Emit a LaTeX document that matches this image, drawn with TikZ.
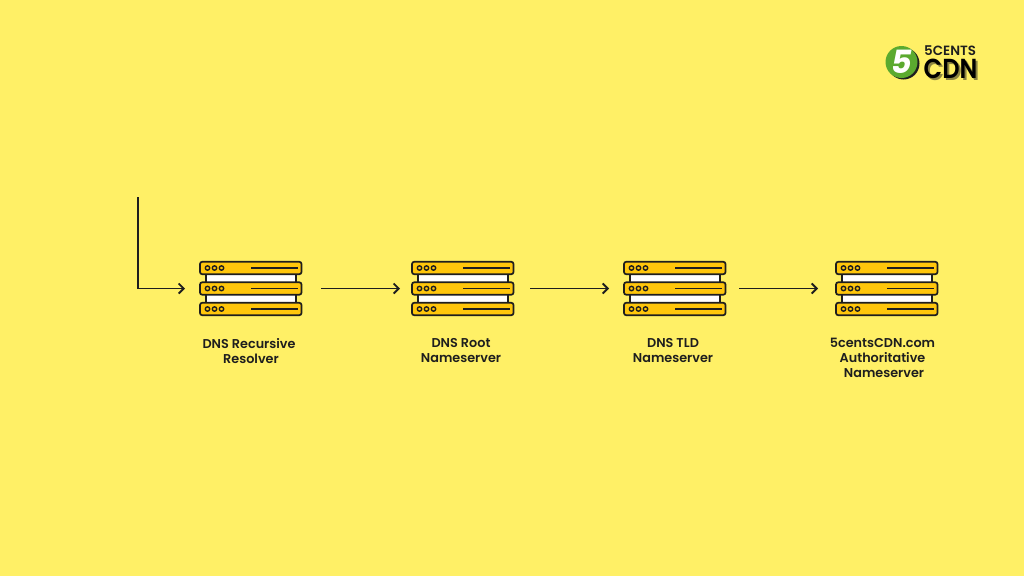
\documentclass[tikz,border=0pt]{standalone}
\usepackage{fontspec}
\setmainfont{Poppins}[BoldFont={Poppins SemiBold}]
\newfontfamily\logofont{Poppins}[UprightFont={Poppins SemiBold},BoldFont={Poppins Bold}]
\definecolor{bgyellow}{HTML}{FFF066}
\definecolor{barfill}{HTML}{FFC60B}
\definecolor{inkline}{HTML}{1E1E1E}
\definecolor{logogreen}{HTML}{5BAA2F}
\tikzset{
  conn/.style={draw=inkline,line width=1.8pt,-{Straight Barb[length=5pt,width=10pt,line width=1.8pt]}},
  srvanchor/.style={minimum width=102pt,minimum height=54pt,inner sep=0pt,outer sep=0pt},
  caption/.style={font=\bfseries\fontsize{12.8}{15}\selectfont,align=center,text=inkline,inner sep=0pt},
  pics/serverstack/.style={code={
    \draw[inkline,line width=1.5pt,fill=white] (-45,-21) rectangle (45,21);
    \foreach \yy in {-20.5,0,20.5}{
      \draw[inkline,line width=1.7pt,fill=barfill,rounded corners=2.2pt] (-51,\yy-6.2) rectangle (50.5,\yy+6.2);
      \foreach \xx in {-43.5,-36.5,-29.5}
        \draw[inkline,line width=1.4pt] (\xx,\yy) circle (2.2);
      \draw[inkline,line width=1.8pt] (0,\yy) -- (47,\yy);
    }
  }}
}
\usetikzlibrary{arrows.meta}
\begin{document}
\begin{tikzpicture}[x=1pt,y=-1pt]
\useasboundingbox[fill=bgyellow] (0,0) rectangle (1024,576);
% servers
\node[srvanchor] (s1) at (251,288.5) {};
\node[srvanchor] (s2) at (463,288.5) {};
\node[srvanchor] (s3) at (675,288.5) {};
\node[srvanchor] (s4) at (887,288.5) {};
\pic at (s1) {serverstack};
\pic at (s2) {serverstack};
\pic at (s3) {serverstack};
\pic at (s4) {serverstack};
% connectors
\coordinate (start) at (138,197);
\coordinate (corner) at (138,288.5);
\draw[conn] (start) -- (corner) -- ([xshift=-15pt]s1.west);
\draw[conn] ([xshift=19pt]s1.east) -- ([xshift=-12pt]s2.west);
\draw[conn] ([xshift=16pt]s2.east) -- ([xshift=-15pt]s3.west);
\draw[conn] ([xshift=13pt]s3.east) -- ([xshift=-18pt]s4.west);
% captions
\node[caption,anchor=north] (c1) at (249,338) {DNS Recursive\\\hspace*{4pt}Resolver};
\node[caption,anchor=north] (c2) at (461,338) {DNS Root\\Nameserver};
\node[caption,anchor=north] (c3) at (673,338) {DNS TLD\\Nameserver};
\node[caption,anchor=north] (c4) at (882.5,338) {5centsCDN.com\\Authoritative\\\hspace*{3pt}Nameserver};
% logo
\fill[inkline] (903.5,63.5) circle (16);
\node[circle,fill=logogreen,minimum size=32pt,inner sep=0pt] (badge) at (901.5,62) {};
\node[inner sep=0pt,text=white,font=\logofont\bfseries\fontsize{32}{32}\selectfont,xslant=0.2] (five) at (902,62) {5};
\node[inner sep=0pt,anchor=west,text=inkline,font=\logofont\fontsize{13.4}{14}\selectfont] (brandtop) at (924,51) {5CENTS};
\node[inner sep=0pt,anchor=west,text=inkline,opacity=0.5,xscale=0.88,font=\logofont\fontsize{27.5}{27.5}\selectfont] at (925.5,70.5) {CDN};
\node[inner sep=0pt,anchor=west,text=black,xscale=0.88,font=\logofont\fontsize{27.5}{27.5}\selectfont] (brandmain) at (923.5,69) {CDN};
\end{tikzpicture}
\end{document}
